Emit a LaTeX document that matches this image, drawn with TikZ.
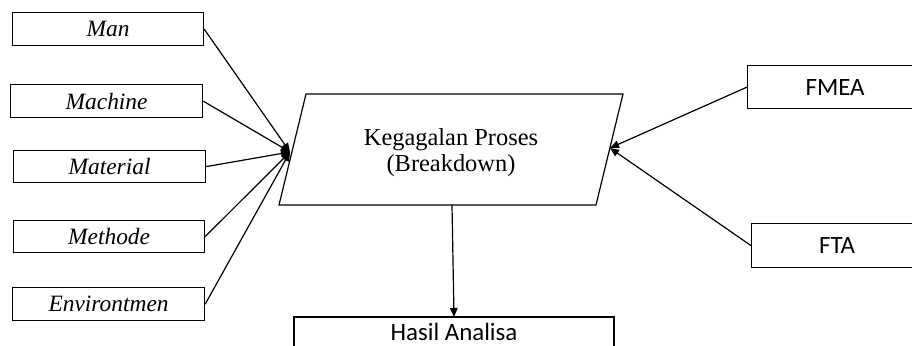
\documentclass[tikz,border=0pt]{standalone}
\usepackage{fontspec}
\setmainfont{Liberation Serif}
\newfontfamily\calib{Carlito}
\usetikzlibrary{arrows.meta}
\begin{document}
\begin{tikzpicture}[x=1bp,y=-1bp,
  line width=1.2bp,
  causebox/.style={draw, rectangle, anchor=north west, inner sep=0pt,
    font=\fontsize{23.5}{26}\selectfont\itshape},
  toolbox/.style={draw, rectangle, anchor=north west, inner sep=0pt,
    font=\calib\fontsize{25}{28}\selectfont},
  link/.style={-{Triangle[length=9bp,width=7.5bp]}},
]
\fill[white] (0,0) rectangle (912,345);
\useasboundingbox (0,0) rectangle (912,345);
\clip (0,0) rectangle (912,345);

% causes on the left
\node[causebox, minimum width=191bp, minimum height=33bp] (man) at (12,12) {Man};
\node[causebox, minimum width=192bp, minimum height=33bp] (machine) at (10,84) {Machine};
\node[causebox, minimum width=192bp, minimum height=32bp] (material) at (13,150) {Material};
\node[causebox, minimum width=191bp, minimum height=32bp] (methode) at (13,220) {Methode};
\node[causebox, minimum width=192bp, minimum height=33bp] (env) at (12,287) {Environtmen};

% central process (parallelogram)
\coordinate (ptl) at (306,94);
\coordinate (ptr) at (623,94);
\coordinate (pbr) at (596,205);
\coordinate (pbl) at (279,205);
\draw (ptl) -- (ptr) -- (pbr) -- (pbl) -- cycle;
\node[align=center, font=\fontsize{24.5}{26}\selectfont] (proc) at (451,153)
  {Kegagalan Proses\\(Breakdown)};
\coordinate (inL) at (290,152);
\coordinate (inR) at (610,148);
\coordinate (outB) at (452,205);

% analysis methods on the right
\node[toolbox, minimum width=175bp, minimum height=43bp] (fmea) at (747,65) {FMEA};
\node[toolbox, minimum width=171bp, minimum height=44bp] (fta) at (751,223) {FTA};

% result box, running past the lower edge
\draw (294,317) rectangle (614,362);
\coordinate (hasilTop) at (454,317);
\node[font=\calib\fontsize{25}{28}\selectfont, anchor=base] (hasil) at (454,340) {Hasil Analisa};

% connectors
\foreach \c in {man,machine,material,methode,env}
  \draw[link] (\c.east) -- (inL);
\draw[link] (fmea.west) -- (inR);
\draw[link] (fta.west) -- (inR);
\draw[link] (outB) -- (hasilTop);
\end{tikzpicture}
\end{document}
